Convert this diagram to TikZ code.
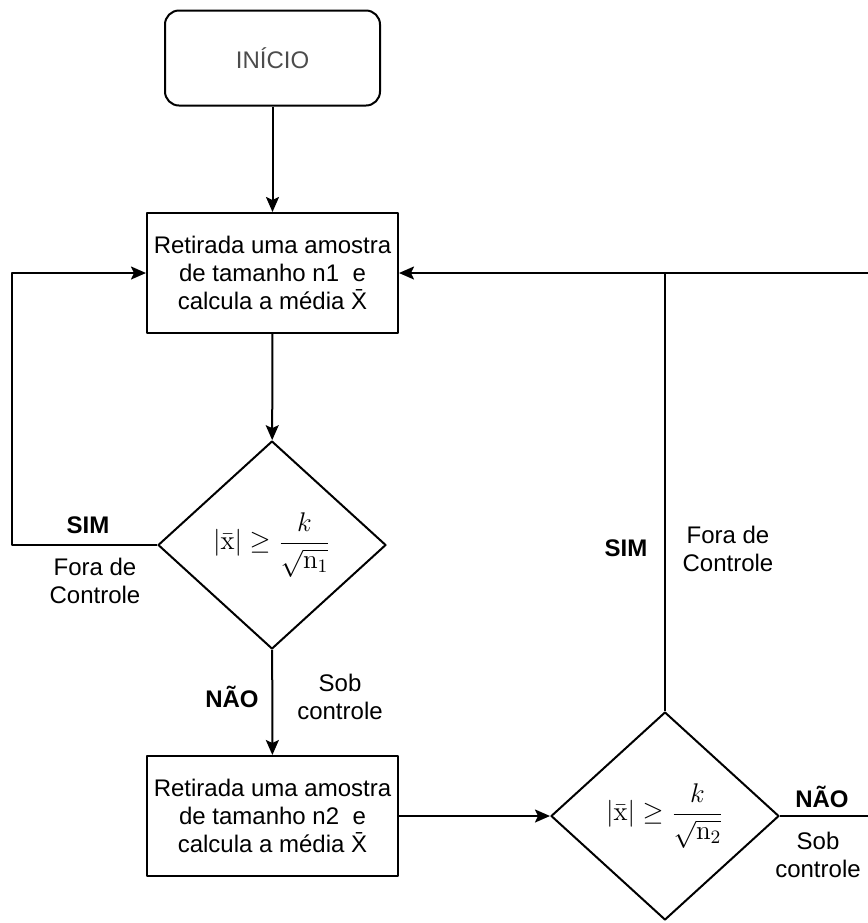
\RequirePackage{fix-cm}
\documentclass[tikz,border=0pt]{standalone}
\usepackage[no-math]{fontspec}
\setmainfont{Liberation Sans}
\usetikzlibrary{shapes.geometric,arrows.meta}
\begin{document}
\begin{tikzpicture}[x=.5pt,y=-.5pt,>={Stealth[length=7.5pt,width=6.5pt,inset=1.5pt]},
  line width=1pt,line join=round,font=\fontsize{12}{14}\selectfont,
  inicio/.style={draw,rounded corners=7pt,minimum width=107.5pt,minimum height=47.5pt,text=black!70},
  caixa/.style={draw,minimum width=125.5pt,minimum height=60pt,align=center,inner sep=0pt},
  decisao/.style={draw,diamond,inner sep=0pt,minimum width=114pt,minimum height=104pt,
    font=\fontsize{13.5}{16}\selectfont},
  rotulo/.style={align=center},
  resp/.style={font=\fontsize{12}{14}\selectfont\bfseries}]
\useasboundingbox (0,0) rectangle (868,923);
% blocos
\node[inicio] (ini) at (272.5,58) {INÍCIO};
\node[caixa] (am1) at (272.5,273) {Retirada uma amostra\\de tamanho n1\ \ e\\calcula a média \={X}};
\node[decisao] (dec1) at (272,545) {$\displaystyle |\bar{\mathrm{x}}| \geq \frac{k}{\sqrt{\mathrm{n}_1}}$};
\node[caixa] (am2) at (272.5,816) {Retirada uma amostra\\de tamanho n2\ \ e\\calcula a média \={X}};
\node[decisao] (dec2) at (665,816) {$\displaystyle |\bar{\mathrm{x}}| \geq \frac{k}{\sqrt{\mathrm{n}_2}}$};
% pontos auxiliares
\coordinate (esq) at (12,545);
\coordinate (dirA) at (868,273);
\coordinate (dirB) at (868,816);
% ligacoes
\draw[->] (ini) -- (am1);
\draw[->] (am1) -- (dec1);
\draw[->] (dec1) -- (am2);
\draw[->] (am2) -- (dec2);
\draw[->] (dec1.west) -- (esq) |- (am1.west);
\draw[->] (dirA) -- (am1.east);
\draw (dec2.north) -- (dec2.north |- am1.east);
\draw (dec2.east) -- (dirB);
% rotulos
\node[resp] (sim1) at (88,525) {SIM};
\node[rotulo] (fora1) at (95,581) {Fora de\\Controle};
\node[resp] (nao1) at (232,697) {NÃO};
\node[rotulo] (sob1) at (340,697) {Sob\\controle};
\node[resp] (sim2) at (626,548) {SIM};
\node[rotulo] (fora2) at (728,549) {Fora de\\Controle};
\node[resp] (nao2) at (822,797) {NÃO};
\node[rotulo] (sob2) at (818,855) {Sob\\controle};
\end{tikzpicture}
\end{document}
